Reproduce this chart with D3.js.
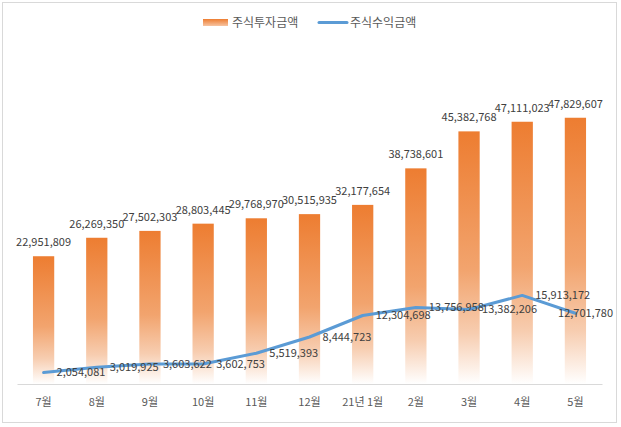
<!DOCTYPE html>
<html><head><meta charset="utf-8">
<script src="https://cdn.jsdelivr.net/npm/d3@7"></script>
<style>body{margin:0;background:#fff}svg{display:block}</style>
</head><body>
<script>
const categories = ["7월","8월","9월","10월","11월","12월","21년 1월","2월","3월","4월","5월"];
const investValues = [22951809,26269350,27502303,28803445,29768970,30515935,32177654,38738601,45382768,47111023,47829607];
const returnValues = [2054081,3019925,3603622,3602753,5519393,8444723,12304698,13756958,13382206,15913172,12701780];
const seriesNames = ["주식투자금액","주식수익금액"];
const yMax = 60000000;

const W = 621, H = 427;
const font = "'Malgun Gothic','Noto Sans CJK KR',sans-serif";
const textColor = "#404040";
const svg = d3.select("body").append("svg").attr("width", W).attr("height", H);

svg.append("rect").attr("x",2.5).attr("y",2.5).attr("width",614).attr("height",420)
  .attr("fill","#fff").attr("stroke","#D9D9D9").attr("stroke-width",1);

const defs = svg.append("defs");
const grad = defs.append("linearGradient").attr("id","barGrad").attr("x1",0).attr("y1",0).attr("x2",0).attr("y2",1);
[[0,"#ED7D31"],[0.55,"#F2A46E"],[0.8,"#F7CDB0"],[1,"#FFFFFF"]].forEach(([o,c])=>
  grad.append("stop").attr("offset",o).attr("stop-color",c));
const lgrad = defs.append("linearGradient").attr("id","legGrad").attr("x1",0).attr("y1",0).attr("x2",0).attr("y2",1);
[[0,"#ED7D31"],[1,"#F7C4A2"]].forEach(([o,c])=>lgrad.append("stop").attr("offset",o).attr("stop-color",c));

const x = d3.scaleBand().domain(categories).range([17,602]).paddingInner(0.6).paddingOuter(0.3);
const y = d3.scaleLinear().domain([0,yMax]).range([384,50]);
const fmt = d3.format(",");

// bars
svg.append("g").selectAll("rect").data(investValues).join("rect")
  .attr("x",(d,i)=>x(categories[i])).attr("width",x.bandwidth())
  .attr("y",d=>y(d)).attr("height",d=>y(0)-y(d)).attr("fill","url(#barGrad)");

// axis
const xAxis = svg.append("g").attr("transform",`translate(0,${y(0)})`)
  .call(d3.axisBottom(x).tickSize(0).tickPadding(14));
xAxis.select(".domain").attr("stroke","#D9D9D9").attr("stroke-width",1);
xAxis.selectAll("text").attr("font-family",font).attr("font-size",11).attr("fill","#595959");

// bar labels
svg.append("g").selectAll("text").data(investValues).join("text")
  .attr("x",(d,i)=>x(categories[i])+x.bandwidth()/2).attr("y",d=>y(d)-10)
  .attr("text-anchor","middle").attr("font-family",font).attr("font-size",11).attr("fill",textColor)
  .text(d=>fmt(d));

// line
const cx = (i)=>x(categories[i])+x.bandwidth()/2;
const line = d3.line().x((d,i)=>cx(i)).y(d=>y(d));
svg.append("path").datum(returnValues).attr("d",line).attr("fill","none")
  .attr("stroke","#5B9BD5").attr("stroke-width",3).attr("stroke-linejoin","round").attr("stroke-linecap","round");

// line labels
svg.append("g").selectAll("text").data(returnValues).join("text")
  .attr("y",d=>y(d)).attr("dy","0.35em")
  .attr("font-family",font).attr("font-size",11).attr("fill",textColor)
  .text(d=>fmt(d))
  .attr("x",function(d,i){
    const w = this.getComputedTextLength();
    return Math.min(cx(i)+13, 613 - w);
  });

// legend
const leg = svg.append("g");
leg.append("rect").attr("x",203).attr("y",19).attr("width",25).attr("height",7).attr("fill","url(#legGrad)");
leg.append("text").attr("x",232).attr("y",23).attr("dy","0.35em").attr("font-family",font).attr("font-size",12)
  .attr("fill","#595959").text(seriesNames[0]);
leg.append("line").attr("x1",319).attr("x2",347).attr("y1",22.5).attr("y2",22.5)
  .attr("stroke","#5B9BD5").attr("stroke-width",3).attr("stroke-linecap","round");
leg.append("text").attr("x",350).attr("y",23).attr("dy","0.35em").attr("font-family",font).attr("font-size",12)
  .attr("fill","#595959").text(seriesNames[1]);
</script>
</body></html>
